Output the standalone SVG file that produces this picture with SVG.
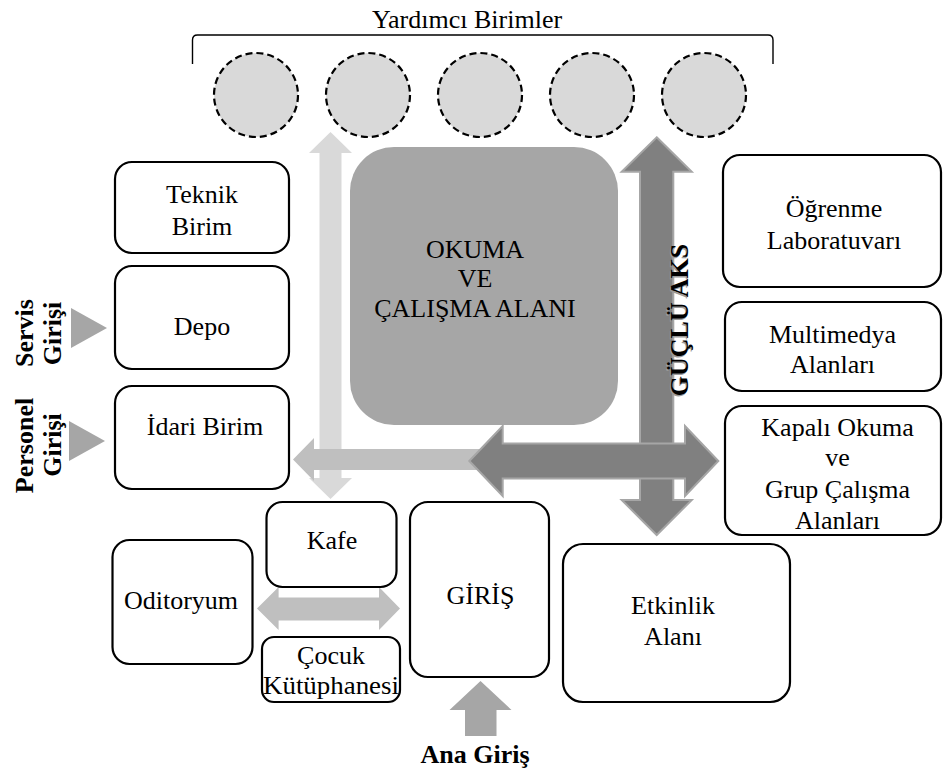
<svg xmlns="http://www.w3.org/2000/svg" width="944" height="774" viewBox="0 0 944 774">
<defs>
<style>
.box{fill:#ffffff;stroke:#000000;stroke-width:2.2}
.t{font-family:'Liberation Serif','DejaVu Serif',serif;font-size:26px;fill:#000000;text-anchor:middle}
.b{font-weight:bold}
.unit{fill:#d9d9d9;stroke:#000000;stroke-width:2.2;stroke-dasharray:7 4}
.lite{fill:#d9d9d9}
.mid{fill:#bfbfbf}
.entry{fill:#a6a6a6}
.dark{fill:#808080;stroke:#a6a6a6;stroke-width:2}
.shadow{fill:#9a9a9a}
</style>
</defs>
<rect width="944" height="774" fill="#ffffff"/>

<g id="yardimci-birimler">
<path d="M192.5,64 L192.5,40 Q192.5,35 197.5,35 L768,35 Q773,35 773,40 L773,64" fill="none" stroke="#000000" stroke-width="1.4"/>
<text class="t" x="467" y="28" font-family="Liberation Serif, DejaVu Serif, serif">Yardımcı Birimler</text>
<circle class="unit" cx="256" cy="95" r="42"/>
<circle class="unit" cx="368" cy="95" r="42"/>
<circle class="unit" cx="480" cy="95" r="42"/>
<circle class="unit" cx="592" cy="95" r="42"/>
<circle class="unit" cx="704" cy="95" r="42"/>
</g>

<g id="okuma-alani">
<rect x="350" y="147" width="268" height="278" rx="44" fill="#a6a6a6"/>
<text class="t" x="475" y="258">OKUMA</text>
<text class="t" x="475" y="287">VE</text>
<text class="t" x="475" y="317">ÇALIŞMA ALANI</text>
</g>

<g id="connectors">
<polygon class="lite" points="330.5,132 352,153 341.5,153 341.5,478 352,478 330.5,499 309,478 319.5,478 319.5,153 309,153"/>
<polygon class="mid" points="293,459.5 314,438 314,449 500,449 500,470 314,470 314,481"/>
<polygon class="dark" points="656.7,137.3 691.7,171.7 673.3,171.7 673.3,500 691.7,500 656.7,535 621.7,500 640,500 640,171.7 621.7,171.7"/>
<polygon class="dark" points="469.3,461 502.7,426 502.7,443.5 685,443.5 685,426 718.3,461 685,496 685,478.5 502.7,478.5 502.7,496"/>
<polygon class="mid" points="257,608.5 278.6,587 278.6,597.5 379,597.5 379,587 400,608.5 379,630 379,620.5 278.6,620.5 278.6,630"/>
<polygon class="entry" points="71,308 107,328 71,348"/>
<polygon class="entry" points="69,421 105,441 69,461"/>
<polygon class="entry" points="480.5,681 511.5,710 496.5,710 496.5,736 465,736 465,710 449.5,710"/>
</g>

<g id="guclu-aks">
<text class="t b shadow" transform="translate(686.5,321.5) rotate(-90)">GÜÇLÜ AKS</text>
<text class="t b" transform="translate(688,320) rotate(-90)">GÜÇLÜ AKS</text>
</g>

<g id="servis-girisi">
<text class="t b" transform="translate(33,333) rotate(-90)">Servis</text>
<text class="t b" transform="translate(61,333.5) rotate(-90)">Girişi</text>
</g>
<g id="personel-girisi">
<text class="t b" transform="translate(33,445.5) rotate(-90)">Personel</text>
<text class="t b" transform="translate(61,445) rotate(-90)">Girişi</text>
</g>
<g id="ana-giris">
<text class="t b" x="475" y="763">Ana Giriş</text>
</g>

<g id="teknik-birim">
<rect class="box" x="115" y="162" width="174" height="91" rx="17"/>
<text class="t" x="202" y="203">Teknik</text>
<text class="t" x="202" y="235">Birim</text>
</g>
<g id="depo">
<rect class="box" x="115" y="266" width="174" height="103" rx="17"/>
<text class="t" x="202" y="335">Depo</text>
</g>
<g id="idari-birim">
<rect class="box" x="115" y="386" width="174" height="103" rx="17"/>
<text class="t" x="205" y="435">İdari Birim</text>
</g>
<g id="ogrenme-laboratuvari">
<rect class="box" x="723" y="155" width="218" height="132" rx="17"/>
<text class="t" x="834" y="217">Öğrenme</text>
<text class="t" x="834" y="248.5">Laboratuvarı</text>
</g>
<g id="multimedya-alanlari">
<rect class="box" x="725" y="302" width="216" height="89" rx="17"/>
<text class="t" x="832.5" y="343">Multimedya</text>
<text class="t" x="832.5" y="372.5">Alanları</text>
</g>
<g id="kapali-okuma">
<rect class="box" x="725" y="406" width="216" height="129" rx="17"/>
<text class="t" x="837.5" y="436">Kapalı Okuma</text>
<text class="t" x="837.5" y="466">ve</text>
<text class="t" x="837.5" y="497.5">Grup Çalışma</text>
<text class="t" x="837.5" y="528.5">Alanları</text>
</g>
<g id="kafe">
<rect class="box" x="266.5" y="502" width="130" height="85" rx="16"/>
<text class="t" x="332" y="548.5">Kafe</text>
</g>
<g id="oditoryum">
<rect class="box" x="112.5" y="540" width="140" height="124" rx="17"/>
<text class="t" x="181" y="609">Oditoryum</text>
</g>
<g id="cocuk-kutuphanesi">
<rect class="box" x="262" y="637" width="138" height="65" rx="12"/>
<text class="t" x="331" y="663.5">Çocuk</text>
<text class="t" x="331" y="693.5" textLength="136" lengthAdjust="spacingAndGlyphs">Kütüphanesi</text>
</g>
<g id="giris">
<rect class="box" x="410" y="502" width="139" height="175" rx="18"/>
<text class="t" x="480.5" y="603.5">GİRİŞ</text>
</g>
<g id="etkinlik-alani">
<rect class="box" x="563" y="544" width="227" height="158" rx="20"/>
<text class="t" x="673" y="613.5">Etkinlik</text>
<text class="t" x="673" y="645">Alanı</text>
</g>
</svg>
